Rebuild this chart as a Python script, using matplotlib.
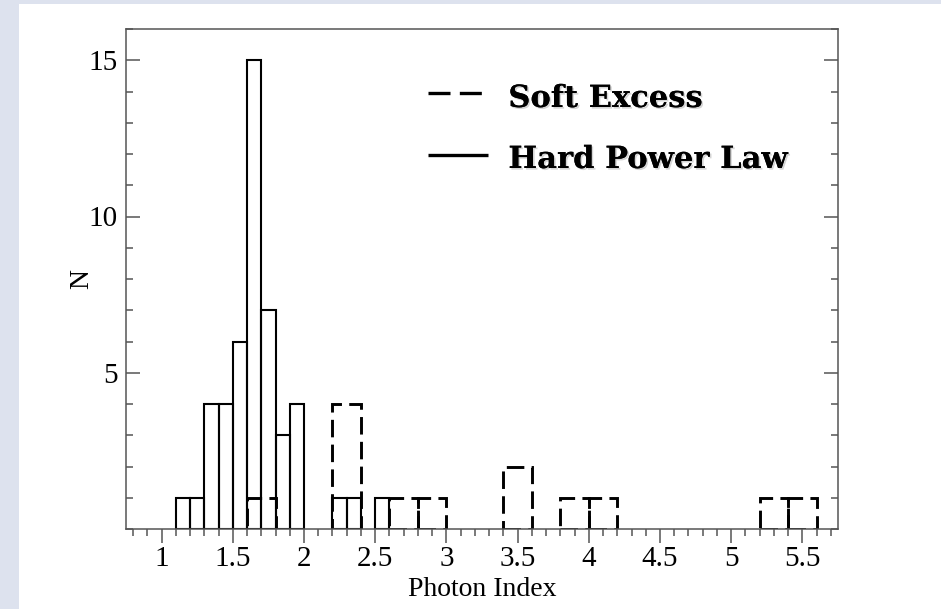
import matplotlib.pyplot as plt
import matplotlib.patheffects as pe
from matplotlib.patches import Rectangle
from matplotlib.ticker import MultipleLocator

# histogram data
hard_left = [1.1, 1.2, 1.3, 1.4, 1.5, 1.6, 1.7, 1.8, 1.9, 2.2, 2.3, 2.5]
hard_counts = [1, 1, 4, 4, 6, 15, 7, 3, 4, 1, 1, 1]
hard_width = 0.1

soft_left = [1.6, 2.2, 2.6, 2.8, 3.4, 3.8, 4.0, 5.2, 5.4]
soft_counts = [1, 4, 1, 1, 2, 1, 1, 1, 1]
soft_width = 0.2

xticks = [1, 1.5, 2, 2.5, 3, 3.5, 4, 4.5, 5, 5.5]
xticklabels = ['1', '1.5', '2', '2.5', '3', '3.5', '4', '4.5', '5', '5.5']
yticks = [5, 10, 15]

plt.rcParams['font.family'] = ['Liberation Serif', 'DejaVu Serif']

fig = plt.figure(figsize=(9.41, 6.09), dpi=100, facecolor='#dde2ee')
# white panel behind the plot
fig.patches.append(Rectangle((19 / 941, 0), 1, 1 - 4 / 609, transform=fig.transFigure,
                             facecolor='white', edgecolor='none', zorder=-5))

ax = fig.add_axes([126 / 941, 1 - 529 / 609, 712 / 941, 500 / 609])
ax.set_zorder(1)
ax.set_facecolor('white')

ax.bar(hard_left, hard_counts, width=hard_width, align='edge', fill=False,
       edgecolor='black', linewidth=1.5)
ax.bar(soft_left, soft_counts, width=soft_width, align='edge', fill=False,
       edgecolor='black', linewidth=2.1, linestyle=(0, (6, 2.5)))

ax.set_xlim(0.75, 5.75)
ax.set_ylim(0, 16)

ax.set_xticks(xticks)
ax.set_xticklabels(xticklabels)
ax.xaxis.set_minor_locator(MultipleLocator(0.1))
ax.set_yticks(yticks)
ax.yaxis.set_minor_locator(MultipleLocator(1))

gray = '#555555'
for s in ax.spines.values():
    s.set_color(gray)
    s.set_linewidth(1.1)
    s.set_zorder(3)

ax.tick_params(axis='x', which='both', direction='out', colors=gray, labelcolor='black',
               top=False, labelsize=21, pad=2)
ax.tick_params(axis='x', which='major', length=10, width=1.1)
ax.tick_params(axis='x', which='minor', length=5, width=1.1)
ax.tick_params(axis='y', which='both', direction='in', colors=gray, labelcolor='black',
               left=True, right=True, labelsize=21, pad=6)
ax.tick_params(axis='y', which='major', length=10, width=1.1)
ax.tick_params(axis='y', which='minor', length=5, width=1.1)

ax.set_xlabel('Photon Index', fontsize=20, labelpad=4)
ax.set_ylabel('N', fontsize=20, labelpad=-4)

# legend drawn by hand
shadow = [pe.withSimplePatchShadow(offset=(1.2, -1.2), shadow_rgbFace='#888888', alpha=0.35),
          pe.Normal()]
ax.plot([0.424, 0.500], [0.872, 0.872], transform=ax.transAxes, color='black',
        linewidth=2.4, linestyle=(0, (6.6, 2.8)))
ax.plot([0.424, 0.508], [0.748, 0.748], transform=ax.transAxes, color='black',
        linewidth=2.4, solid_capstyle='butt')
ax.text(0.537, 0.844, 'Soft Excess', transform=ax.transAxes, family='DejaVu Serif',
        fontweight='bold', fontsize=22, va='baseline', ha='left', path_effects=shadow)
ax.text(0.537, 0.722, 'Hard Power Law', transform=ax.transAxes, family='DejaVu Serif',
        fontweight='bold', fontsize=22, va='baseline', ha='left', path_effects=shadow)

fig.savefig('out.png', dpi=100, facecolor=fig.get_facecolor())
